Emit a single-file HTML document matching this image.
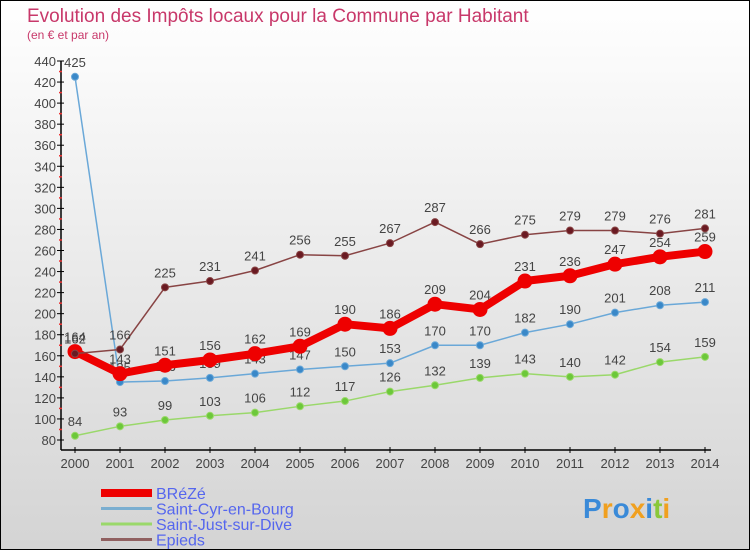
<!DOCTYPE html>
<html><head><meta charset="utf-8"><style>
body{margin:0}
#c{width:748px;height:548px;border:1px solid #000;background:linear-gradient(#ffffff,#d4d4d4);position:relative;font-family:"Liberation Sans",sans-serif;overflow:hidden}
</style></head><body>
<div id="c">
<svg id="s" width="748" height="548"></svg>
</div>
<script>
const years=[2000,2001,2002,2003,2004,2005,2006,2007,2008,2009,2010,2011,2012,2013,2014];
const yTicks=[80,100,120,140,160,180,200,220,240,260,280,300,320,340,360,380,400,420,440];
const breze=[164,143,151,156,162,169,190,186,209,204,231,236,247,254,259];
const stcyr=[425,135,136,139,143,147,150,153,170,170,182,190,201,208,211];
const stjust=[84,93,99,103,106,112,117,126,132,139,143,140,142,154,159];
const epieds=[162,166,225,231,241,256,255,267,287,266,275,279,279,276,281];
const NS="http://www.w3.org/2000/svg",s=document.getElementById('s');
const X=i=>74+i*45, Y=v=>439-(v-80)*(379/360);
function el(t,a,p){const e=document.createElementNS(NS,t);for(const k in a)e.setAttribute(k,a[k]);(p||s).appendChild(e);return e;}
function tx(x,y,str,a){const e=el('text',Object.assign({x:x,y:y},a));e.textContent=str;return e;}
let t=tx(26,21,'Evolution des Impôts locaux pour la Commune par Habitant',{'font-size':19,fill:'#c8386a'});

t=tx(26,38,'(en € et par an)',{'font-size':12,fill:'#c8386a'});

let a=el('line',{x1:60,y1:60,x2:60,y2:449,stroke:'#000','stroke-width':1.5});

a=el('line',{x1:60,y1:449,x2:710,y2:449,stroke:'#000','stroke-width':1.5});

yTicks.forEach((v,i)=>{el('line',{x1:56,x2:63,y1:Y(v),y2:Y(v),stroke:'#000'});
 if(i<yTicks.length-1)el('line',{x1:58,x2:61,y1:Y(v+10),y2:Y(v+10),stroke:'#e33','stroke-width':1.5});
 const l=tx(55,Y(v)+5,v,{'font-size':13,fill:'#444','text-anchor':'end'});
 });
years.forEach((y,i)=>{el('line',{x1:X(i),x2:X(i),y1:446,y2:452,stroke:'#000'});
 const l=tx(X(i),467,y,{'font-size':13,fill:'#444','text-anchor':'middle'});
 });
function series(d,col,w,r,fill,name){
 const g=el('g',{});
 el('polyline',{points:d.map((v,i)=>X(i)+','+Y(v)).join(' '),fill:'none',stroke:col,'stroke-width':w,'stroke-linejoin':'round'},g);
 d.forEach((v,i)=>{const c=el('circle',{cx:X(i),cy:Y(v),r:r,fill:fill,stroke:col,'stroke-width':1},g);
  
  const l=tx(X(i),Y(v)-10,v,{'font-size':13,fill:'#444','text-anchor':'middle'},g);
  });
}
series(stjust,'#9ad86a',1.5,3.5,'#6cc83a','saint-just');
series(stcyr,'#6aa8d8',1.5,3.5,'#3a88c8','saint-cyr');
series(breze,'#ee0000',8,7,'#ee0000','breze');
series(epieds,'#884444',1.5,3.5,'#6a1a22','epieds');
const leg=[['BRéZé','#ee0000',8],['Saint-Cyr-en-Bourg','#7aaed0',3],['Saint-Just-sur-Dive','#9ad86a',3],['Epieds','#906060',3]];
leg.forEach((L,i)=>{const g=el('g',{});
 const y=492+i*15.5;el('line',{x1:100,x2:151,y1:y,y2:y,stroke:L[1],'stroke-width':L[2]},g);
 tx(155,y+6,L[0],{'font-size':16,fill:'#5566ee'},g);});
const lg=tx(582,517,'',{'font-size':28,'font-weight':'bold'});

[['P','#3a8ad8'],['r','#f0a020'],['o','#3a8ad8'],['x','#f0a020'],['i','#3a8ad8'],['t','#8ac83a'],['i','#f0a020']].forEach(p=>{const ts=el('tspan',{fill:p[1]},lg);ts.textContent=p[0];});
</script>
</body></html>
